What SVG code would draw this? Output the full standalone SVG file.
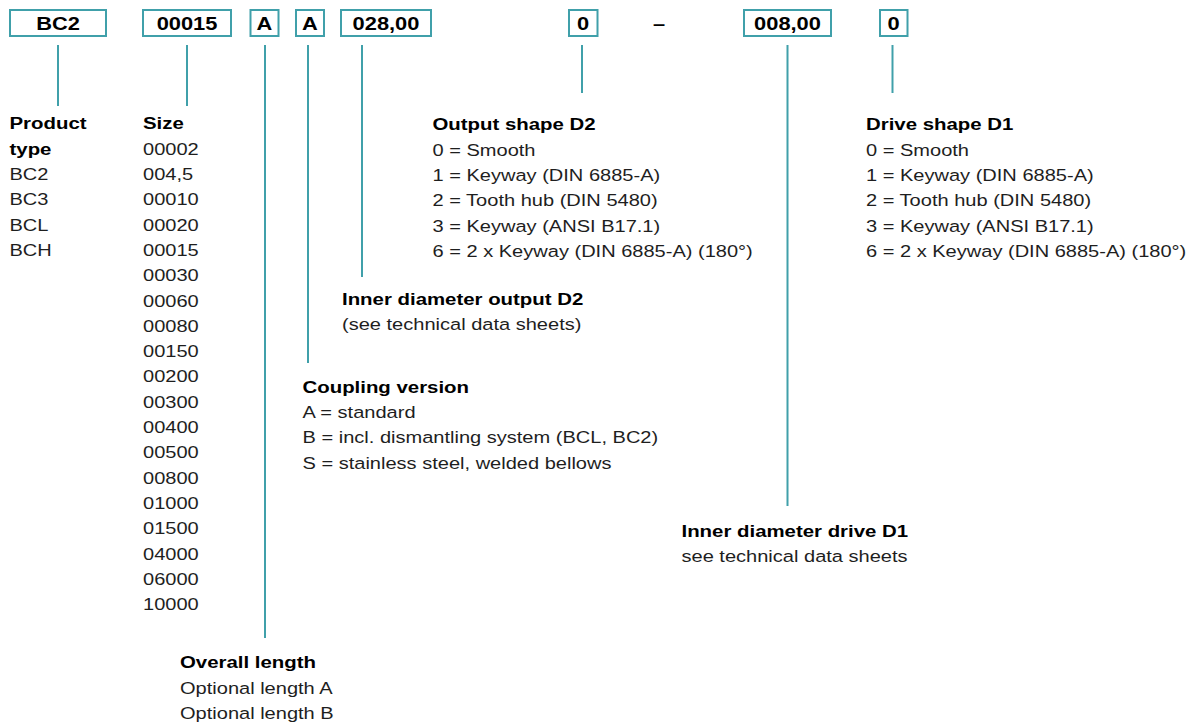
<svg xmlns="http://www.w3.org/2000/svg" width="1192" height="725" viewBox="0 0 1192 725">
<style>
  .box { fill: #ffffff; stroke: #40a0aa; stroke-width: 2; }
  .code { font-family: "Liberation Sans", Arial, sans-serif; font-weight: bold; font-size: 18.2px; fill: #000000; text-anchor: middle; }
  .hd { font-family: "Liberation Sans", Arial, sans-serif; font-weight: bold; font-size: 17px; fill: #000000; }
  .tx { font-family: "Liberation Sans", Arial, sans-serif; font-size: 16.7px; fill: #1e1e1e; }
  .conn line { stroke: #40a0aa; stroke-width: 2; fill: none; }
</style>
<rect width="1192" height="725" fill="#ffffff"/>

<!-- code boxes -->
<g id="box-type"><rect class="box" x="10" y="10" width="96" height="26"/><text class="code" transform="translate(58,0) scale(1.2,1)" x="0" y="30.5">BC2</text></g>
<g id="box-size"><rect class="box" x="143" y="10" width="88" height="26"/><text class="code" transform="translate(187,0) scale(1.2,1)" x="0" y="30.5">00015</text></g>
<g id="box-length"><rect class="box" x="250.5" y="10" width="28" height="26"/><text class="code" transform="translate(264.5,0) scale(1.2,1)" x="0" y="30.5">A</text></g>
<g id="box-version"><rect class="box" x="296" y="10" width="28" height="26"/><text class="code" transform="translate(310,0) scale(1.2,1)" x="0" y="30.5">A</text></g>
<g id="box-d2"><rect class="box" x="341" y="10" width="90" height="26"/><text class="code" transform="translate(386,0) scale(1.2,1)" x="0" y="30.5">028,00</text></g>
<g id="box-shape-d2"><rect class="box" x="569" y="10" width="28.5" height="26"/><text class="code" transform="translate(583,0) scale(1.2,1)" x="0" y="30.5">0</text></g>
<g id="dash"><text class="code" transform="translate(659,0) scale(1.2,1)" x="0" y="30.5">–</text></g>
<g id="box-d1"><rect class="box" x="744" y="10" width="87" height="26"/><text class="code" transform="translate(787.5,0) scale(1.2,1)" x="0" y="30.5">008,00</text></g>
<g id="box-shape-d1"><rect class="box" x="880" y="10" width="27.5" height="26"/><text class="code" transform="translate(893.5,0) scale(1.2,1)" x="0" y="30.5">0</text></g>

<!-- connectors -->
<g id="connectors" class="conn">
  <line x1="58" y1="45" x2="58" y2="106"/>
  <line x1="187" y1="45" x2="187" y2="106"/>
  <line x1="265" y1="45" x2="265" y2="638"/>
  <line x1="308" y1="45" x2="308" y2="363"/>
  <line x1="362" y1="45" x2="362" y2="277"/>
  <line x1="582" y1="45" x2="582" y2="93"/>
  <line x1="787.5" y1="45" x2="787.5" y2="506"/>
  <line x1="892.5" y1="45" x2="892.5" y2="93"/>
</g>

<!-- label blocks -->
<g id="product-type" transform="translate(9.5,0) scale(1.2,1)">
  <text class="hd" x="0" y="129.5">Product</text>
  <text class="hd" x="0" y="154.8">type</text>
  <text class="tx" x="0" y="180.1">BC2</text>
  <text class="tx" x="0" y="205.4">BC3</text>
  <text class="tx" x="0" y="230.7">BCL</text>
  <text class="tx" x="0" y="256">BCH</text>
</g>

<g id="size" transform="translate(143,0) scale(1.2,1)">
  <text class="hd" x="0" y="129.5">Size</text>
  <text class="tx" x="0" y="154.8">00002</text>
  <text class="tx" x="0" y="180.1">004,5</text>
  <text class="tx" x="0" y="205.4">00010</text>
  <text class="tx" x="0" y="230.7">00020</text>
  <text class="tx" x="0" y="256">00015</text>
  <text class="tx" x="0" y="281.3">00030</text>
  <text class="tx" x="0" y="306.6">00060</text>
  <text class="tx" x="0" y="331.9">00080</text>
  <text class="tx" x="0" y="357.2">00150</text>
  <text class="tx" x="0" y="382.5">00200</text>
  <text class="tx" x="0" y="407.8">00300</text>
  <text class="tx" x="0" y="433.1">00400</text>
  <text class="tx" x="0" y="458.4">00500</text>
  <text class="tx" x="0" y="483.7">00800</text>
  <text class="tx" x="0" y="509">01000</text>
  <text class="tx" x="0" y="534.3">01500</text>
  <text class="tx" x="0" y="559.6">04000</text>
  <text class="tx" x="0" y="584.9">06000</text>
  <text class="tx" x="0" y="610.2">10000</text>
</g>

<g id="overall-length" transform="translate(180,0) scale(1.2,1)">
  <text class="hd" x="0" y="668.3">Overall length</text>
  <text class="tx" x="0" y="693.6">Optional length A</text>
  <text class="tx" x="0" y="718.9">Optional length B</text>
</g>

<g id="coupling-version" transform="translate(302.5,0) scale(1.2,1)">
  <text class="hd" x="0" y="392.7">Coupling version</text>
  <text class="tx" x="0" y="418">A = standard</text>
  <text class="tx" x="0" y="443.3">B = incl. dismantling system (BCL, BC2)</text>
  <text class="tx" x="0" y="468.6">S = stainless steel, welded bellows</text>
</g>

<g id="inner-diameter-output" transform="translate(342,0) scale(1.2,1)">
  <text class="hd" x="0" y="304.6">Inner diameter output D2</text>
  <text class="tx" x="0" y="329.9">(see technical data sheets)</text>
</g>

<g id="output-shape" transform="translate(432.5,0) scale(1.2,1)">
  <text class="hd" x="0" y="130.5">Output shape D2</text>
  <text class="tx" x="0" y="155.8">0 = Smooth</text>
  <text class="tx" x="0" y="181.1">1 = Keyway (DIN 6885-A)</text>
  <text class="tx" x="0" y="206.4">2 = Tooth hub (DIN 5480)</text>
  <text class="tx" x="0" y="231.7">3 = Keyway (ANSI B17.1)</text>
  <text class="tx" x="0" y="257">6 = 2 x Keyway (DIN 6885-A) (180°)</text>
</g>

<g id="inner-diameter-drive" transform="translate(681.5,0) scale(1.2,1)">
  <text class="hd" x="0" y="536.7">Inner diameter drive D1</text>
  <text class="tx" x="0" y="562">see technical data sheets</text>
</g>

<g id="drive-shape" transform="translate(866,0) scale(1.2,1)">
  <text class="hd" x="0" y="130.5">Drive shape D1</text>
  <text class="tx" x="0" y="155.8">0 = Smooth</text>
  <text class="tx" x="0" y="181.1">1 = Keyway (DIN 6885-A)</text>
  <text class="tx" x="0" y="206.4">2 = Tooth hub (DIN 5480)</text>
  <text class="tx" x="0" y="231.7">3 = Keyway (ANSI B17.1)</text>
  <text class="tx" x="0" y="257">6 = 2 x Keyway (DIN 6885-A) (180°)</text>
</g>
</svg>
